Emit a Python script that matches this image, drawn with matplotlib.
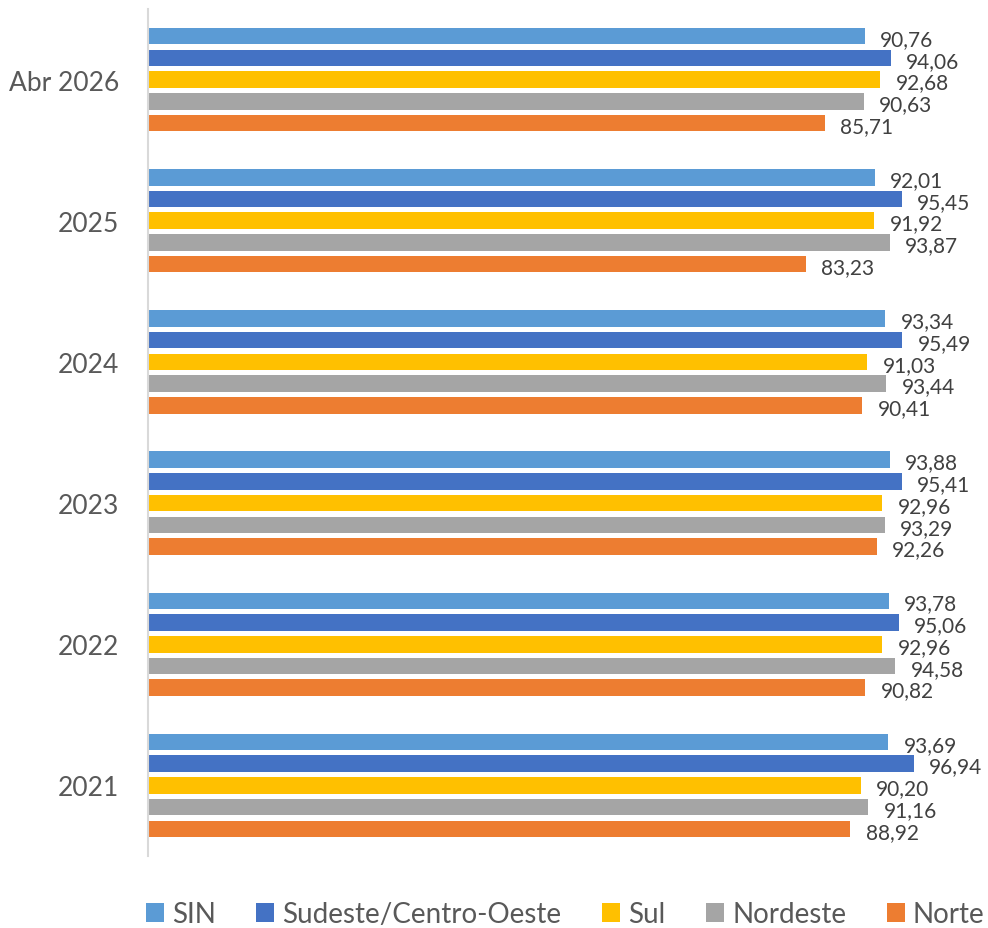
import matplotlib.pyplot as plt
import numpy as np

# categories (top to bottom) and series values
categories = ['Abr 2026', '2025', '2024', '2023', '2022', '2021']
series_names = ['SIN', 'Sudeste/Centro-Oeste', 'Sul', 'Nordeste', 'Norte']
sin = [90.76, 92.01, 93.34, 93.88, 93.78, 93.69]
sudeste = [94.06, 95.45, 95.49, 95.41, 95.06, 96.94]
sul = [92.68, 91.92, 91.03, 92.96, 92.96, 90.20]
nordeste = [90.63, 93.87, 93.44, 93.29, 94.58, 91.16]
norte = [85.71, 83.23, 90.41, 92.26, 90.82, 88.92]
colors = ['#5B9BD5', '#4472C4', '#FFC000', '#A5A5A5', '#ED7D31']

plt.rcParams['font.family'] = ['Lato', 'DejaVu Sans']

fig = plt.figure(figsize=(9.88, 9.29), dpi=100)
ax = fig.add_axes([148/988, 1 - 857/929, 790/988, 847/929])

y = np.arange(len(categories))
pitch = 0.154
height = 0.117
all_series = [sin, sudeste, sul, nordeste, norte]
for k, (vals, name, c) in enumerate(zip(all_series, series_names, colors)):
    bars = ax.barh(y + (k - 2) * pitch, vals, height=height, color=c, label=name)
    anns = ax.bar_label(bars, labels=[f'{v:.2f}'.replace('.', ',') for v in vals],
                        padding=11, fontsize=15, color='#404040')
    for a in anns:
        a.xyann = (11, -2)

ax.set_xlim(0, 100)
ax.set_ylim(len(categories) - 0.5, -0.5)
ax.set_yticks(y)
ax.set_yticklabels(categories, fontsize=19, color='#595959')
ax.tick_params(axis='y', length=0, pad=21)
ax.set_xticks([])
for s in ['top', 'right', 'bottom']:
    ax.spines[s].set_visible(False)
ax.spines['left'].set_color('#D9D9D9')
ax.spines['left'].set_linewidth(1.5)

leg = fig.legend(loc='center', bbox_to_anchor=(0.572, 0.015), ncol=5, frameon=False,
                 fontsize=20, handlelength=0.65, handleheight=0.65, handletextpad=0.3,
                 columnspacing=1.45, labelcolor='#595959')

plt.savefig('out.png', dpi=100)
